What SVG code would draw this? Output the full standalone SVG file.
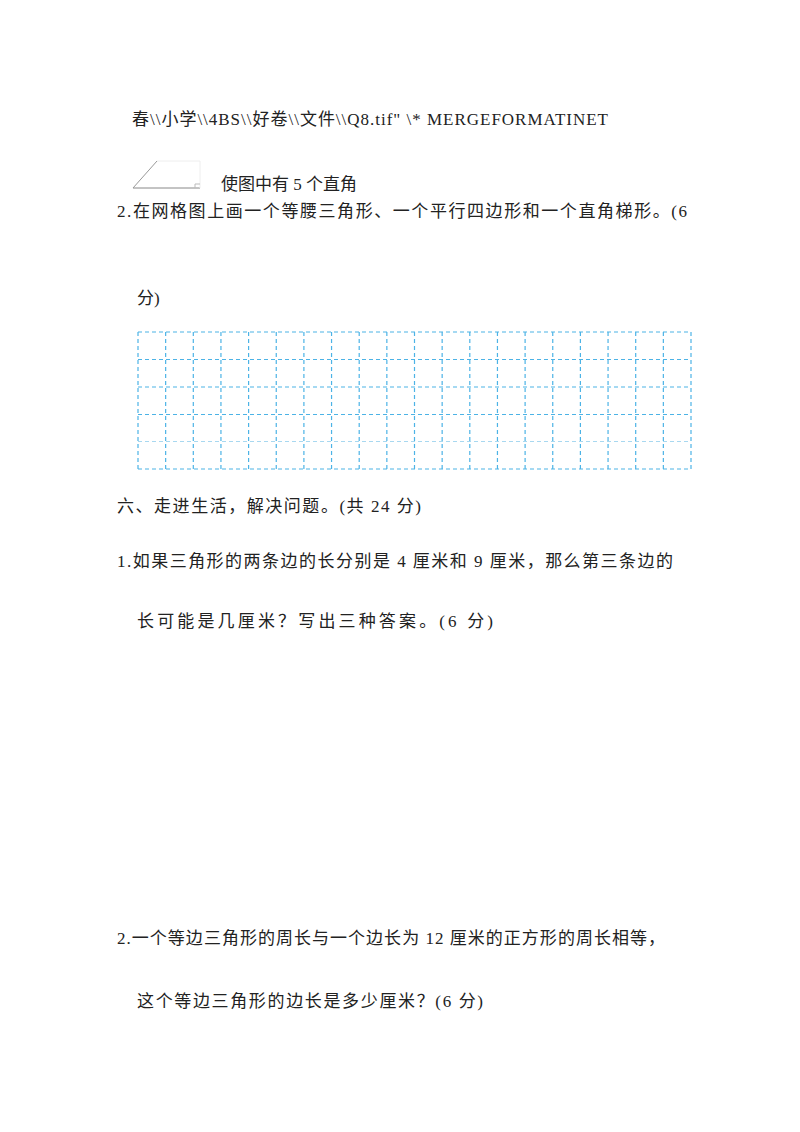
<svg xmlns="http://www.w3.org/2000/svg" width="800" height="1132" viewBox="0 0 800 1132">
<style>
text{font-family:"Liberation Serif","Noto Sans CJK SC",serif;font-size:17px;fill:#222}
.g{stroke:#4cb3e6;stroke-width:1.2;stroke-dasharray:4 3;fill:none}
</style>
<rect width="800" height="1132" fill="#fff"/>
<text x="132" y="125" textLength="476">春\\小学\\4BS\\好卷\\文件\\Q8.tif" \* MERGEFORMATINET</text>
<g id="figure" fill="none" stroke-width="1">
<line x1="133" y1="188" x2="200" y2="188" stroke="#888"/>
<line x1="133" y1="188" x2="157" y2="161" stroke="#999"/>
<line x1="157" y1="161" x2="200" y2="161" stroke="#eee"/>
<line x1="200" y1="161" x2="200" y2="188" stroke="#eee"/>
<polyline points="195,188 195,184 200,184" stroke="#bbb"/>
</g>
<text x="221" y="190">使图中有 5 个直角</text>
<text x="117" y="217" textLength="570">2.在网格图上画一个等腰三角形、一个平行四边形和一个直角梯形。(6</text>
<text x="137" y="304">分)</text>
<g id="grid">
<path class="g" d="M138,332H691M138,359.5H691M138,387H691M138,414.5H691M138,469H691"/>
<path class="g" style="stroke:#a8d8f0" d="M138,441.5H691"/>
<path class="g" d="M138,332V469M165.65,332V469M193.3,332V469M220.95,332V469M248.6,332V469M276.25,332V469M303.9,332V469M331.55,332V469M359.2,332V469M386.85,332V469M414.5,332V469M442.15,332V469M469.8,332V469M497.45,332V469M525.1,332V469M552.75,332V469M580.4,332V469M608.05,332V469M635.7,332V469M663.35,332V469M691,332V469"/>
</g>
<text x="117" y="512" textLength="304">六、走进生活，解决问题。(共 24 分)</text>
<text x="117" y="567" textLength="556">1.如果三角形的两条边的长分别是 4 厘米和 9 厘米，那么第三条边的</text>
<text x="137" y="627" textLength="356">长可能是几厘米？写出三种答案。(6 分)</text>
<text x="117" y="944" textLength="548">2.一个等边三角形的周长与一个边长为 12 厘米的正方形的周长相等，</text>
<text x="137" y="1007" textLength="346">这个等边三角形的边长是多少厘米？(6 分)</text>
</svg>
